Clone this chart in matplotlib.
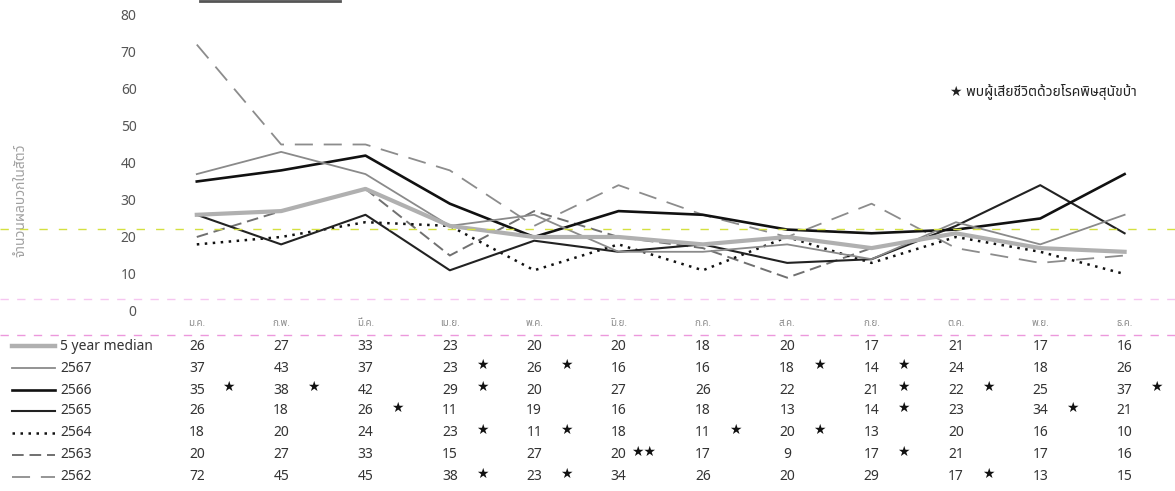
import matplotlib
matplotlib.use('Agg')
import matplotlib.pyplot as plt
import matplotlib.transforms as mtransforms
from matplotlib.lines import Line2D
from matplotlib import font_manager

# fonts: pick a Thai-capable family, DejaVu as fallback for the stars
names = {f.name for f in font_manager.fontManager.ttflist}
thai = [n for n in ['Noto Sans Thai', 'Sarabun', 'Bai Jamjuree'] if n in names][:1]
plt.rcParams['font.family'] = thai + ['DejaVu Sans']

# data
months = ['ม.ค.', 'ก.พ.', 'มี.ค.', 'เม.ย.', 'พ.ค.', 'มิ.ย.',
          'ก.ค.', 'ส.ค.', 'ก.ย.', 'ต.ค.', 'พ.ย.', 'ธ.ค.']
series_names = ['5 year median', '2567', '2566', '2565', '2564', '2563', '2562']
median5 = [26, 27, 33, 23, 20, 20, 18, 20, 17, 21, 17, 16]
y2567 = [37, 43, 37, 23, 26, 16, 16, 18, 14, 24, 18, 26]
y2566 = [35, 38, 42, 29, 20, 27, 26, 22, 21, 22, 25, 37]
y2565 = [26, 18, 26, 11, 19, 16, 18, 13, 14, 23, 34, 21]
y2564 = [18, 20, 24, 23, 11, 18, 11, 20, 13, 20, 16, 10]
y2563 = [20, 27, 33, 15, 27, 20, 17, 9, 17, 21, 17, 16]
y2562 = [72, 45, 45, 38, 23, 34, 26, 20, 29, 17, 13, 15]
# number of deaths markers (stars) per series, by month index
stars = {
    '2567': {3: 1, 4: 1, 7: 1, 8: 1},
    '2566': {0: 1, 1: 1, 3: 1, 8: 1, 9: 1, 11: 1},
    '2565': {2: 1, 8: 1, 10: 1},
    '2564': {3: 1, 4: 1, 6: 1, 7: 1},
    '2563': {5: 2, 8: 1},
    '2562': {3: 1, 4: 1, 9: 1},
}
values = [median5, y2567, y2566, y2565, y2564, y2563, y2562]
styles = [
    dict(color='#b0b0b0', lw=3.0, ls='-'),
    dict(color='#8a8a8a', lw=1.3, ls='-'),
    dict(color='#111111', lw=1.9, ls='-'),
    dict(color='#222222', lw=1.5, ls='-'),
    dict(color='#111111', lw=1.8, ls=(0, (1, 2.2))),
    dict(color='#707070', lw=1.4, ls=(0, (6, 3))),
    dict(color='#8c8c8c', lw=1.3, ls=(0, (10, 6))),
]

fig = plt.figure(figsize=(11.75, 4.91), dpi=100)
ax = fig.add_axes([0.128, 0.3666, 0.865, 0.6029])

x = list(range(len(months)))
# draw older years first so the median and recent years sit on top
for vals, st in list(zip(values, styles))[::-1]:
    ax.plot(x, vals, **st)

ax.set_xlim(-0.55, 11.5)
ax.set_ylim(0, 80)
ax.set_yticks(range(0, 81, 10))
ax.tick_params(axis='y', length=0, labelsize=10, labelcolor='#555555', pad=10)
ax.set_xticks(x)
ax.set_xticklabels(months)
ax.tick_params(axis='x', length=0, labelsize=7, labelcolor='#8a8a8a', pad=6)
for s in ax.spines.values():
    s.set_visible(False)

ax.set_ylabel('จำนวนผลบวกในสัตว์', fontsize=10, color='#a0a0a0')
ax.yaxis.set_label_coords(-0.12, 0.375)

ax.text(0.787, 0.74, '★ พบผู้เสียชีวิตด้วยโรคพิษสุนัขบ้า', transform=ax.transAxes,
        fontsize=10, color='#222222', va='center', ha='left')

# scan artefacts: faint coloured dashed guide lines
fig.add_artist(Line2D([0, 1], [1 - 229 / 491] * 2, transform=fig.transFigure,
                      color='#d4e040', lw=1.0, ls=(0, (6, 8))))
fig.add_artist(Line2D([0, 1], [1 - 299 / 491] * 2, transform=fig.transFigure,
                      color='#f6c6f0', lw=1.0, ls=(0, (6, 6))))
fig.add_artist(Line2D([0, 1], [1 - 335 / 491] * 2, transform=fig.transFigure,
                      color='#ec98dc', lw=1.0, ls=(0, (6, 6))))
fig.add_artist(Line2D([200 / 1175, 340 / 1175], [1 - 1.2 / 491] * 2,
                      transform=fig.transFigure, color='#555555', lw=2))

# data table below the chart
trans = mtransforms.blended_transform_factory(ax.transData, fig.transFigure)
row_px = [346, 368, 390, 411, 433, 455, 477]
for name, vals, st, ypx in zip(series_names, values, styles, row_px):
    yf = 1 - ypx / 491
    lw = st['lw'] if st['lw'] < 3 else 3.2
    fig.add_artist(Line2D([12 / 1175, 55 / 1175], [yf, yf], transform=fig.transFigure,
                          color=st['color'], lw=lw, ls=st['ls']))
    fig.text(60 / 1175, yf, name, fontsize=10, color='#333333', va='center', ha='left')
    for i, v in enumerate(vals):
        fig.text(i, yf, str(v), transform=trans, fontsize=10, color='#333333',
                 va='center', ha='center')
    for i, n in stars.get(name, {}).items():
        if n == 2:
            fig.text(i + 0.15, yf + 0.006, '★★', transform=trans, fontsize=10,
                     color='#111111', va='center', ha='left')
        else:
            fig.text(i + 0.38, yf + 0.006, '★', transform=trans, fontsize=10,
                     color='#111111', va='center', ha='center')

fig.savefig('out.png', dpi=100)
